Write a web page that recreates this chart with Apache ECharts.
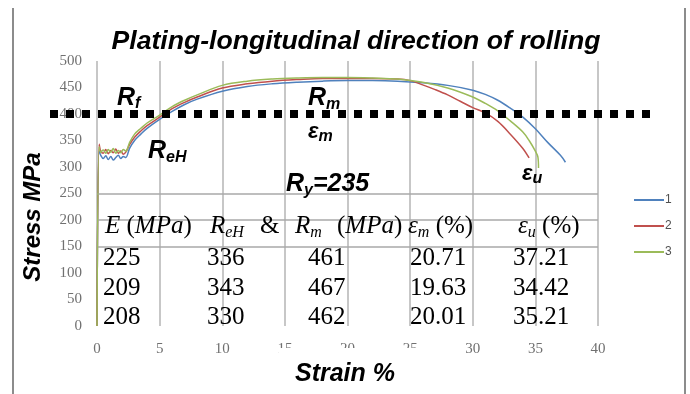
<!DOCTYPE html>
<html>
<head>
<meta charset="utf-8">
<script src="https://cdn.jsdelivr.net/npm/echarts@6/dist/echarts.min.js"></script>
<style>html,body{margin:0;padding:0;background:#fff}#c{width:690px;height:394px}</style>
</head>
<body>
<div id="c"></div>
<script>
// ---- data ----
const xTicks = [0, 5, 10, 15, 20, 25, 30, 35, 40];
const yTicks = [0, 50, 100, 150, 200, 250, 300, 350, 400, 450, 500];
const seriesNames = ['1', '2', '3'];
const strain1 = [0, 0.17, 0.3, 0.5, 0.7, 0.9, 1.1, 1.3, 1.5, 1.7, 1.9, 2.1, 2.3, 2.6, 3.0, 3.5, 4.0, 5.0, 6.0, 7.0, 8.0, 10, 12, 14, 16, 18, 20, 22, 24, 26, 28, 30, 31, 32, 33, 34, 35, 36, 37, 37.4];
const stress1 = [0, 330, 322, 316, 321, 314, 320, 313, 318, 322, 316, 320, 318, 335, 350, 362, 373, 390, 405, 418, 428, 443, 452, 457, 460, 462, 463, 463, 462, 459, 454, 445, 437, 426, 411, 394, 372, 346, 322, 309];
const strain2 = [0, 0.17, 0.3, 0.5, 0.7, 0.9, 1.1, 1.3, 1.5, 1.7, 1.9, 2.1, 2.3, 2.6, 3.0, 3.5, 4.0, 5.0, 6.0, 7.0, 8.0, 10, 12, 14, 16, 18, 20, 22, 24, 25, 26, 27, 28, 29, 30, 31, 32, 33, 34, 34.5];
const stress2 = [0, 343, 330, 326, 333, 325, 331, 327, 334, 326, 330, 324, 328, 342, 356, 368, 378, 394, 410, 422, 432, 449, 457, 462, 465, 467, 467, 467, 466, 463, 455, 446, 436, 424, 412, 402, 386, 362, 335, 317];
const strain3 = [0, 0.17, 0.3, 0.5, 0.7, 0.9, 1.1, 1.3, 1.5, 1.7, 1.9, 2.1, 2.3, 2.6, 3.0, 3.5, 4.0, 5.0, 6.0, 7.0, 8.0, 10, 12, 14, 16, 18, 20, 22, 24, 26, 28, 30, 31, 32, 33, 34, 34.5, 35, 35.2, 35.25];
const stress3 = [0, 338, 328, 332, 326, 333, 328, 335, 326, 331, 327, 333, 330, 346, 362, 373, 383, 398, 414, 426, 436, 454, 462, 466, 468, 469, 469, 468, 466, 460, 449, 432, 420, 406, 387, 366, 350, 330, 319, 298];
const refLines = [250, 200, 150];
const dottedLevel = 400;
const tableE = ['225', '209', '208'];
const tableReH = ['336', '343', '330'];
const tableRm = ['461', '467', '462'];
const tableEm = ['20.71', '19.63', '20.01'];
const tableEu = ['37.21', '34.42', '35.21'];
const titleText = 'Plating-longitudinal direction of rolling';
const xTitle = 'Strain %';
const yTitle = 'Stress MPa';

// ---- chart ----
const colors = ['#4f81bd', '#c0504d', '#9bbb59'];
const chart = echarts.init(document.getElementById('c'), null, {renderer: 'canvas'});
const zip = (xs, ys) => xs.map((x, i) => [x, ys[i]]);
const serifLbl = {fontFamily: '"Liberation Serif", serif', fontSize: 15, color: '#707070'};

const series = [[strain1, stress1], [strain2, stress2], [strain3, stress3]].map((d, i) => ({
  name: seriesNames[i], type: 'line', data: zip(d[0], d[1]), showSymbol: false, symbol: 'none',
  smooth: 0.35, lineStyle: {width: 1.5, color: colors[i]}, itemStyle: {color: colors[i]},
  z: 3 + i,
  markLine: i === 0 ? {silent: true, symbol: 'none', label: {show: false},
    lineStyle: {color: '#a8a8a8', width: 1.5, type: 'solid'},
    data: refLines.map(v => ({yAxis: v}))} : undefined
}));

chart.setOption({
  animation: false,
  backgroundColor: '#fff',
  title: {text: titleText, left: 351, top: 23, textAlign: 'center',
    textStyle: {fontFamily: '"Liberation Sans", Arial', fontSize: 26.6, fontStyle: 'italic', fontWeight: 'bold', color: '#000'}},
  grid: {left: 97, right: 92, top: 61, bottom: 68},
  legend: {orient: 'vertical', left: 629, top: 189, itemWidth: 30, itemHeight: 2, itemGap: 14, icon: 'rect',
    data: seriesNames, textStyle: {fontFamily: '"Liberation Sans", Arial', fontSize: 12, color: '#505050', lineHeight: 12, padding: [0, 0, 0, -4]}},
  xAxis: {type: 'value', min: 0, max: 40, interval: 5,
    axisLine: {show: false}, axisTick: {show: false},
    splitLine: {show: true, lineStyle: {color: '#b4b4b4', width: 1.5}},
    axisLabel: Object.assign({margin: 16}, serifLbl)},
  yAxis: {type: 'value', min: 0, max: 500, interval: 50,
    axisLine: {show: false}, axisTick: {show: false}, splitLine: {show: false},
    axisLabel: Object.assign({margin: 15}, serifLbl)},
  series: series
});

// ---- annotations ----
const mctx = document.createElement('canvas').getContext('2d');
function tw(t, font) { mctx.font = font; return mctx.measureText(t).width; }
function runs(x, cy, parts) {
  const out = [];
  let cx = x;
  parts.forEach(p => {
    out.push({type: 'text', x: cx, y: cy + (p.dy || 0), z: 50,
      style: {text: p.t, font: p.f, fill: '#000', align: 'left', verticalAlign: 'middle'}});
    cx += tw(p.t, p.f) + (p.sp || 0);
  });
  return out;
}
const AB = 'italic bold 25px "Liberation Sans"';
const ABs = 'italic bold 16px "Liberation Sans"';
const AE = 'italic bold 22px "Liberation Sans"';
const TI = 'italic 25px "Liberation Serif"';
const TR = '25px "Liberation Serif"';
const TS = 'italic 16px "Liberation Serif"';

const yPix = chart.convertToPixel({yAxisIndex: 0}, dottedLevel);
let g = [];
// frame lines
g.push({type: 'line', shape: {x1: 13, y1: 8, x2: 13, y2: 394}, style: {stroke: '#8c8c8c', lineWidth: 2}, z: 1});
g.push({type: 'line', shape: {x1: 685, y1: 8, x2: 685, y2: 394}, style: {stroke: '#8c8c8c', lineWidth: 2}, z: 1});
// dotted level line
g.push({type: 'line', shape: {x1: 50, y1: yPix, x2: 658, y2: yPix}, z: 60,
  style: {stroke: '#000', lineWidth: 8, lineDash: [8, 8], lineCap: 'butt'}});
// cover box (x-axis title box overlapping tick labels)
g.push({type: 'rect', shape: {x: 279, y: 348, width: 142, height: 14}, style: {fill: '#fff'}, z: 40});
// axis titles
g.push({type: 'text', x: 345, y: 374, z: 50, style: {text: xTitle, font: 'italic bold 25px "Liberation Sans"', fill: '#000', align: 'center', verticalAlign: 'middle'}});
g.push({type: 'text', x: 33, y: 217, rotation: Math.PI / 2, z: 50, style: {text: yTitle, font: 'italic bold 24px "Liberation Sans"', fill: '#000', align: 'center', verticalAlign: 'middle'}});
// symbols
g = g.concat(runs(117, 98, [{t: 'R', f: AB}, {t: 'f', f: ABs, dy: 6}]));
g = g.concat(runs(148, 151, [{t: 'R', f: AB}, {t: 'eH', f: ABs, dy: 7}]));
g = g.concat(runs(308, 98, [{t: 'R', f: AB}, {t: 'm', f: ABs, dy: 7}]));
g = g.concat(runs(308, 132, [{t: 'ε', f: AE}, {t: 'm', f: ABs, dy: 5}]));
g = g.concat(runs(286, 184, [{t: 'R', f: AB}, {t: 'y', f: ABs, dy: 7}, {t: '=235', f: AB}]));
g = g.concat(runs(522, 174, [{t: 'ε', f: AE}, {t: 'u', f: ABs, dy: 5}]));
// table header
const hy = 226;
g = g.concat(runs(105, hy, [{t: 'E', f: TI}, {t: ' (', f: TR}, {t: 'MPa', f: TI}, {t: ')', f: TR}]));
g = g.concat(runs(210, hy, [{t: 'R', f: TI}, {t: 'eH', f: TS, dy: 7}]));
g = g.concat(runs(260, hy, [{t: '&', f: TR}]));
g = g.concat(runs(295, hy, [{t: 'R', f: TI}, {t: 'm', f: TS, dy: 7}]));
g = g.concat(runs(337, hy, [{t: '(', f: TR}, {t: 'MPa', f: TI}, {t: ')', f: TR}]));
g = g.concat(runs(408, hy, [{t: 'ε', f: TI}, {t: 'm', f: TS, dy: 7}, {t: ' (%)', f: TR}]));
g = g.concat(runs(518, hy, [{t: 'ε', f: TI}, {t: 'u', f: TS, dy: 7}, {t: ' (%)', f: TR}]));
// table rows
const colX = [103, 207, 308, 410, 513];
const rowY = [258, 288, 317];
[tableE, tableReH, tableRm, tableEm, tableEu].forEach((col, ci) => {
  col.forEach((v, ri) => { g = g.concat(runs(colX[ci], rowY[ri], [{t: v, f: TR}])); });
});
chart.setOption({graphic: {elements: g}});
</script>
</body>
</html>
